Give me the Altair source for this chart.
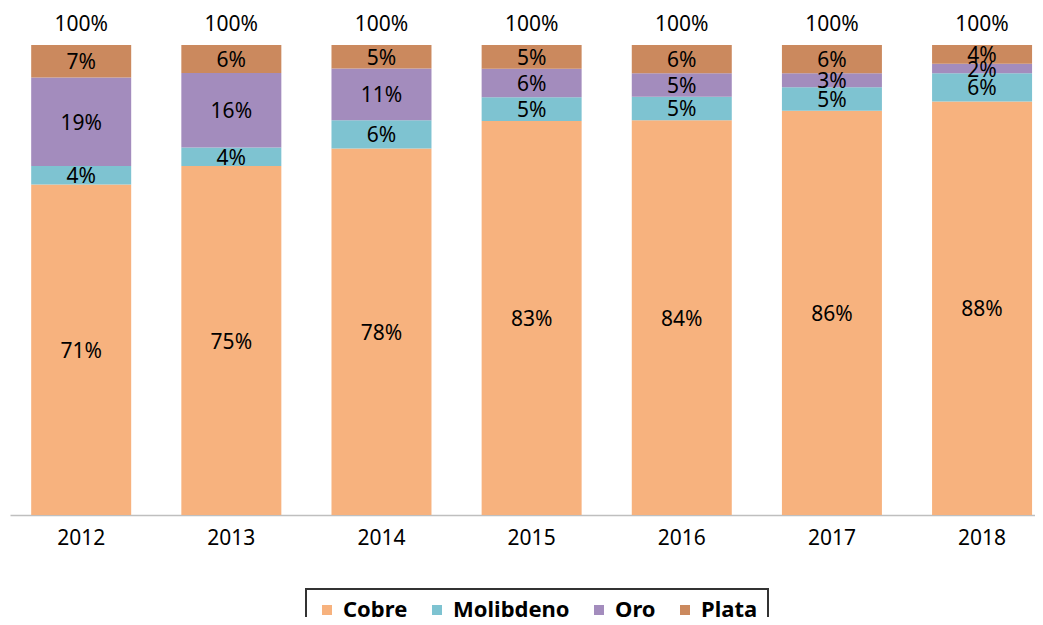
import altair as alt
import pandas as pd

years = ["2012", "2013", "2014", "2015", "2016", "2017", "2018"]
series = ["Cobre", "Molibdeno", "Oro", "Plata"]
cobre = [71, 75, 78, 83, 84, 86, 88]
molibdeno = [4, 4, 6, 5, 5, 5, 6]
oro = [19, 16, 11, 6, 5, 3, 2]
plata = [7, 6, 5, 5, 6, 6, 4]
totals = [100, 100, 100, 100, 100, 100, 100]
colors = ["#F7B27E", "#7EC3D1", "#A38CBD", "#CB895E"]

rows = []
for i, y in enumerate(years):
    for k, (name, vals) in enumerate(zip(series, [cobre, molibdeno, oro, plata])):
        rows.append({"year": y, "serie": name, "value": vals[i], "ord": k})
df = pd.DataFrame(rows)
tot = pd.DataFrame({"year": years, "total": totals, "pos": [1.0] * len(years)})

FONT = "Noto Sans"

xenc = alt.X(
    "year:N",
    sort=years,
    title=None,
    scale=alt.Scale(paddingInner=1 / 3, paddingOuter=0.08, align=0.88),
    axis=alt.Axis(
        labelFontSize=21,
        labelFont=FONT,
        labelColor="#000000",
        labelAngle=0,
        ticks=False,
        domainColor="#BFBFBF",
        domainWidth=1.5,
        labelPadding=12,
        grid=False,
    ),
)
yscale = alt.Scale(domain=[0, 1.0745], nice=False, zero=True)

base = alt.Chart(df).transform_stack(
    stack="value",
    groupby=["year"],
    as_=["y0", "y1"],
    offset="normalize",
    sort=[alt.SortField("ord", order="ascending")],
).transform_calculate(mid="(datum.y0 + datum.y1) / 2", lab="datum.value + '%'")

bars = base.mark_bar(size=100).encode(
    x=xenc,
    y=alt.Y("y0:Q", scale=yscale, axis=None),
    y2="y1:Q",
    color=alt.Color(
        "serie:N",
        sort=series,
        scale=alt.Scale(domain=series, range=colors),
        legend=alt.Legend(
            title=None,
            orient="none",
            legendX=296,
            legendY=579,
            direction="horizontal",
            symbolType="square",
            symbolSize=100,
            symbolStrokeWidth=0,
            labelFontSize=22,
            labelFont=FONT,
            labelFontWeight="bold",
            labelColor="#000000",
            labelOffset=5,
            columnPadding=18,
            padding=10,
            strokeColor="#333333",
        ),
    ),
)

labels = base.mark_text(fontSize=21, font=FONT, color="#000000", baseline="middle", dy=2).encode(
    x=alt.X("year:N", sort=years),
    y=alt.Y("mid:Q", scale=yscale, axis=None),
    text="lab:N",
)

toplab = alt.Chart(tot).transform_calculate(lab="datum.total + '%'").mark_text(
    fontSize=21, font=FONT, color="#000000", baseline="middle", dy=-20
).encode(
    x=alt.X("year:N", sort=years),
    y=alt.Y("pos:Q", scale=yscale, axis=None),
    text="lab:N",
)

chart = (
    alt.layer(bars, labels, toplab)
    .properties(
        width=1025,
        height=505,
        autosize=alt.AutoSizeParams(type="none"),
        padding={"left": 2, "top": 2, "right": 0, "bottom": 102},
    )
    .configure_view(stroke=None)
    .configure_legend(strokeWidth=2)
)

chart.save("out.html", embed_options={"renderer": "svg", "actions": False})
